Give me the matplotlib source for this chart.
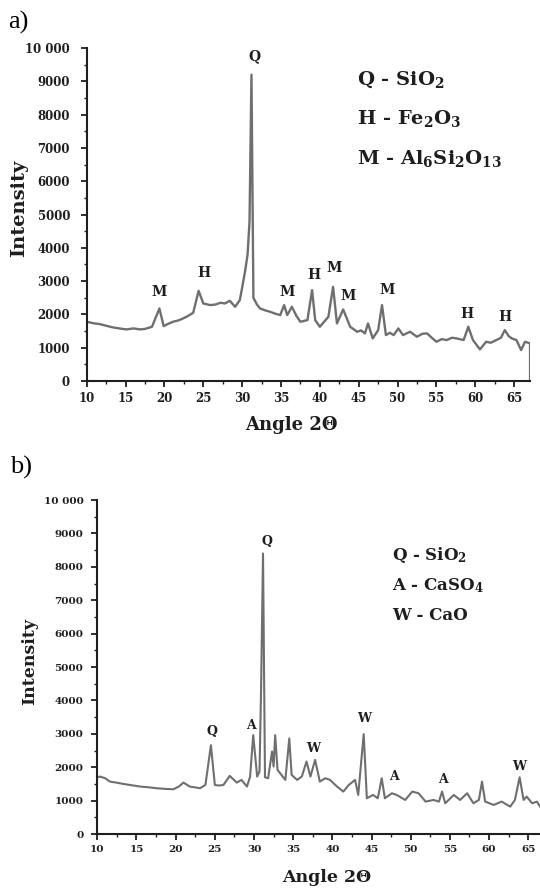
import numpy as np
import matplotlib
matplotlib.use("Agg")
import matplotlib.pyplot as plt
from matplotlib.ticker import MultipleLocator, FuncFormatter

plt.rcParams['font.family'] = ['DejaVu Serif']
plt.rcParams['font.weight'] = 'bold'
plt.rcParams['axes.labelweight'] = 'bold'
plt.rcParams['mathtext.fontset'] = 'custom'
plt.rcParams['mathtext.rm'] = 'DejaVu Serif:bold'
plt.rcParams['mathtext.it'] = 'DejaVu Serif:bold'
plt.rcParams['mathtext.bf'] = 'DejaVu Serif:bold'

# -------- data: panel a --------
ang_a = [10.0, 11.0, 11.7, 12.5, 13.4, 14.2, 15.1, 16.0, 16.9, 17.6,
         18.4, 19.35, 19.9, 20.5, 21.1, 21.8, 22.4, 23.0, 23.7, 24.4,
         25.0, 25.9, 26.6, 27.2, 27.8, 28.4, 29.1, 29.7, 30.1, 30.4,
         30.7, 30.95, 31.2, 31.45, 31.9, 32.3, 33.0, 33.6, 34.3, 34.9,
         35.4, 35.8, 36.4, 37.0, 37.5, 38.4, 39.0, 39.4, 40.0, 41.1,
         41.7, 42.2, 43.0, 43.9, 44.8, 45.3, 45.8, 46.2, 46.8, 47.5,
         48.0, 48.5, 49.0, 49.5, 50.1, 50.7, 51.6, 52.5, 53.2, 53.8,
         54.4, 55.0, 55.7, 56.3, 57.0, 57.6, 58.5, 59.1, 59.7, 60.6,
         61.4, 62.0, 62.7, 63.3, 63.8, 64.3, 64.7, 65.3, 65.9, 66.4,
         67.05, 67.05]
int_a = [1780, 1730, 1710, 1660, 1610, 1580, 1550, 1580, 1550, 1570,
         1630, 2180, 1650, 1720, 1780, 1820, 1880, 1950, 2050, 2710,
         2330, 2280, 2300, 2350, 2330, 2410, 2230, 2430, 2930, 3330,
         3800, 4800, 9200, 2500, 2300, 2180, 2120, 2080, 2020, 1980,
         2280, 1980, 2230, 1950, 1780, 1830, 2730, 1830, 1630, 1930,
         2830, 1730, 2150, 1630, 1480, 1520, 1430, 1730, 1280, 1530,
         2280, 1380, 1450, 1380, 1580, 1380, 1480, 1330, 1420, 1430,
         1300, 1180, 1260, 1230, 1300, 1280, 1230, 1630, 1230, 950,
         1180, 1150, 1230, 1300, 1530, 1350, 1280, 1230, 930, 1180,
         1130, 0]
peaks_a = ['M', 'H', 'Q', 'M', 'H', 'M', 'M', 'M', 'H', 'H']
peak_x_a = [19.35, 25.1, 31.6, 35.8, 39.2, 41.8, 43.6, 48.6, 58.9, 63.8]
peak_y_a = [2680, 3250, 9750, 2680, 3180, 3380, 2550, 2730, 2010, 1930]
legend_a = [r'Q - SiO$_2$', r'H - Fe$_2$O$_3$', r'M - Al$_6$Si$_2$O$_{13}$']

# -------- data: panel b --------
ang_b = [10.0, 10.35, 11.0, 11.6, 12.4, 13.3, 14.4, 15.5, 16.5, 17.6,
         18.7, 19.7, 20.4, 21.0, 21.8, 22.4, 23.1, 23.8, 24.5, 25.0,
         25.5, 26.1, 26.9, 27.8, 28.4, 29.1, 29.5, 29.9, 30.4, 30.7,
         30.9, 31.15, 31.4, 31.8, 32.3, 32.5, 32.7, 33.0, 33.5, 34.0,
         34.5, 34.8, 35.5, 36.1, 36.7, 37.2, 37.8, 38.4, 39.1, 39.7,
         40.6, 41.4, 42.1, 42.9, 43.3, 44.0, 44.4, 45.2, 45.8, 46.3,
         46.7, 47.6, 48.2, 49.3, 50.2, 51.0, 51.9, 52.9, 53.6, 54.0,
         54.4, 55.5, 56.3, 57.2, 58.0, 58.7, 59.1, 59.5, 60.6, 61.6,
         62.7, 63.3, 63.9, 64.4, 64.8, 65.5, 66.1, 66.5]
int_b = [1700, 1720, 1670, 1570, 1540, 1500, 1460, 1420, 1400, 1370,
         1350, 1340, 1420, 1540, 1420, 1400, 1370, 1470, 2660, 1470,
         1450, 1470, 1740, 1540, 1620, 1420, 1720, 2960, 1720, 1870,
         4300, 8400, 1700, 1670, 2470, 2020, 2960, 1920, 1770, 1620,
         2860, 1770, 1620, 1720, 2170, 1720, 2220, 1570, 1670, 1620,
         1420, 1270, 1470, 1620, 1170, 2990, 1070, 1170, 1070, 1670,
         1070, 1220, 1170, 1020, 1270, 1220, 970, 1020, 970, 1270,
         920, 1170, 1020, 1220, 920, 1020, 1570, 970, 870, 970,
         820, 1020, 1700, 1020, 1120, 920, 970, 820]
peaks_b = ['Q', 'A', 'Q', 'W', 'W', 'A', 'A', 'W']
peak_x_b = [24.6, 29.6, 31.6, 37.5, 44.1, 47.9, 54.1, 63.8]
peak_y_b = [3060, 3260, 8770, 2560, 3450, 1720, 1620, 2020]
legend_b = [r'Q - SiO$_2$', r'A - CaSO$_4$', r'W - CaO']

LINE = '#6f6f6f'
INK = '#1e1e1e'


def y_fmt(v, p):
    return '10 000' if v >= 10000 else f'{int(v)}'


def style(ax, xlim, tick_fs, ypad):
    ax.set_xlim(*xlim)
    ax.set_ylim(0, 10000)
    for s in ['top', 'right']:
        ax.spines[s].set_visible(False)
    for s in ['left', 'bottom']:
        ax.spines[s].set_linewidth(1.5)
        ax.spines[s].set_color(INK)
    ax.xaxis.set_major_locator(MultipleLocator(5))
    ax.xaxis.set_minor_locator(MultipleLocator(2.5))
    ax.yaxis.set_major_locator(MultipleLocator(1000))
    ax.yaxis.set_minor_locator(MultipleLocator(500))
    ax.yaxis.set_major_formatter(FuncFormatter(y_fmt))
    ax.tick_params(axis='both', which='major', direction='out', length=4,
                   width=1.3, color=INK, labelsize=tick_fs, labelcolor=INK)
    ax.tick_params(axis='both', which='minor', direction='out', length=2.5,
                   width=1.0, color=INK)
    ax.tick_params(axis='y', which='major', pad=ypad)
    ax.tick_params(axis='x', which='major', pad=4)


fig = plt.figure(figsize=(5.4, 8.88), dpi=100)

# -------- panel a --------
ax1 = fig.add_axes([0.1606, 0.5709, 0.821, 0.375])
ax1.plot(ang_a, int_a, color=LINE, lw=1.7, solid_joinstyle='round')
style(ax1, (10, 67.05), 8.5, 8)
for lab, x, y in zip(peaks_a, peak_x_a, peak_y_a):
    ax1.text(x, y, lab, ha='center', va='center', fontsize=10, color=INK,
             clip_on=False)
for i, t in enumerate(legend_a):
    ax1.text(0.61, 0.905 - i * 0.118, t, transform=ax1.transAxes,
             ha='left', va='center', fontsize=14, color=INK)
ax1.set_ylabel('Intensity', fontsize=14, color=INK, va='center')
ax1.yaxis.set_label_coords(-0.153, 0.52)
ax1.set_xlabel('Angle 2Θ', fontsize=13, color=INK, va='center')
ax1.xaxis.set_label_coords(0.461, -0.132)
fig.text(8 / 540, 1 - 22 / 888, 'a)', family='Liberation Serif',
         fontweight='normal', fontsize=19, ha='left', va='center')

# -------- panel b --------
ax2 = fig.add_axes([0.1802, 0.0608, 0.8198, 0.3761])
ax2.plot(ang_b, int_b, color=LINE, lw=1.5, solid_joinstyle='round')
style(ax2, (10, 66.5), 7.5, 6)
for lab, x, y in zip(peaks_b, peak_x_b, peak_y_b):
    ax2.text(x, y, lab, ha='center', va='center', fontsize=9, color=INK,
             clip_on=False)
for i, t in enumerate(legend_b):
    ax2.text(0.665, 0.835 - i * 0.09, t, transform=ax2.transAxes,
             ha='left', va='center', fontsize=12, color=INK)
ax2.set_ylabel('Intensity', fontsize=12.5, color=INK, va='center')
ax2.yaxis.set_label_coords(-0.154, 0.518)
ax2.set_xlabel('Angle 2Θ', fontsize=12.5, color=INK, va='center')
ax2.xaxis.set_label_coords(0.519, -0.129)
fig.text(10 / 540, 1 - 467 / 888, 'b)', family='Liberation Serif',
         fontweight='normal', fontsize=19, ha='left', va='center')

fig.savefig('out.png', dpi=100)
